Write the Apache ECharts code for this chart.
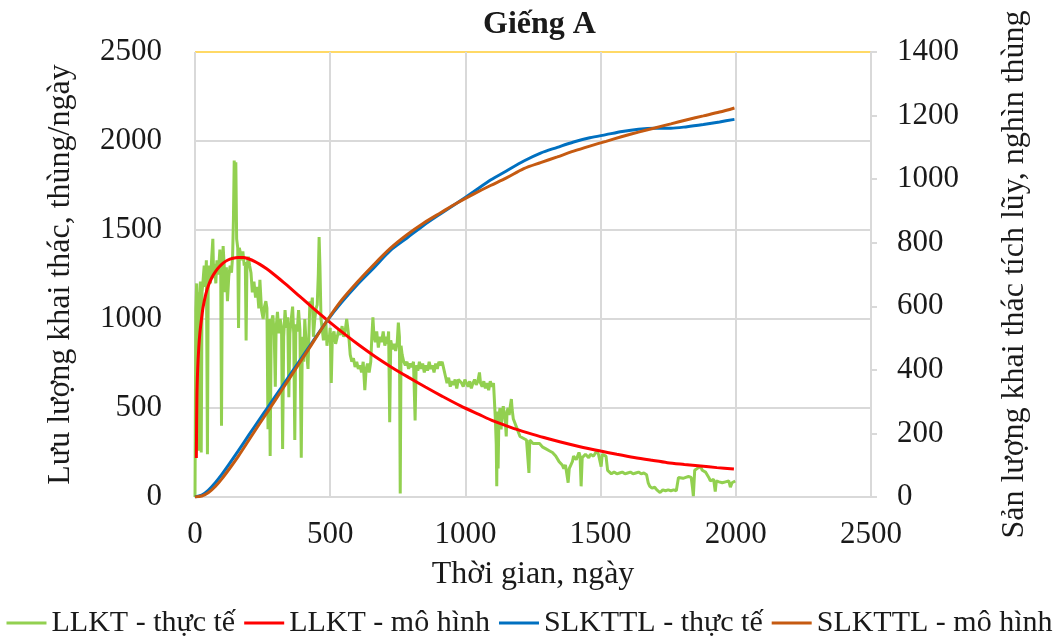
<!DOCTYPE html>
<html>
<head>
<meta charset="utf-8">
<script src="https://cdn.jsdelivr.net/npm/echarts@6/dist/echarts.min.js"></script>
<style>
  html, body { margin: 0; padding: 0; background: #fff; }
  #chart { width: 1059px; height: 644px; }
</style>
</head>
<body>
<div id="chart"></div>
<script>
// LLKT - thực tế (ngày, thùng/ngày)
const llktActual = [
  [0,0],[3,1050],[6,1200],[8,600],[10,1150],[13,260],[16,1100],[20,1210],[23,250],[26,1150],[30,1220],[34,1300],
  [38,1180],[42,1330],[46,240],[49,1250],[53,1300],[57,1200],[62,1350],[66,1450],[69,1230],[73,1310],[77,1200],
  [81,1330],[86,1250],[92,1390],[95,1280],[98,400],[101,1200],[104,1410],[108,1300],[112,1150],[116,1290],[120,1100],
  [125,1240],[130,1300],[135,1260],[139,1350],[142,1550],[145,1890],[148,1700],[151,1880],[154,1450],[158,1400],
  [161,950],[164,1400],[168,1370],[172,1330],[177,1380],[182,1300],[186,1320],[189,880],[192,1290],[197,1350],
  [202,1300],[207,1260],[212,1150],[218,1210],[224,1120],[230,1180],[236,1060],[240,1220],[246,1050],[252,1000],
  [257,1070],[262,1100],[266,1060],[270,380],[274,1000],[278,230],[282,980],[288,1020],[293,910],[297,620],[300,950],
  [305,1040],[310,920],[315,1000],[320,950],[324,270],[328,900],[333,1050],[338,950],[343,1010],[347,560],[351,920],
  [356,1000],[361,1070],[365,920],[369,320],[373,970],[378,930],[383,1050],[388,940],[393,220],[397,900],[402,760],
  [406,1000],[412,830],[418,720],[422,950],[425,1100],[429,1060],[434,1120],[438,900],[443,1000],[448,1060],[452,1080],
  [456,1250],[459,1460],[462,1300],[466,1000],[470,950],[475,880],[480,930],[484,980],[488,850],[492,900],[496,880],
  [500,950],[504,640],[508,900],[514,930],[520,860],[526,900],[532,940],[538,910],[544,960],[550,900],[556,940],
  [561,1000],[565,950],[570,880],[574,800],[580,760],[586,780],[592,730],[598,760],[604,720],[610,740],[616,700],
  [622,760],[628,600],[633,720],[638,750],[644,700],[650,760],[654,900],[658,1010],[662,900],[667,870],[672,930],
  [678,840],[684,900],[690,870],[696,930],[702,850],[708,900],[712,860],[716,930],[720,420],[724,880],[730,830],
  [736,860],[742,820],[748,870],[752,980],[756,900],[759,20],[762,850],[766,800],[772,760],[778,740],[784,760],
  [790,720],[796,750],[802,730],[808,760],[814,430],[818,740],[824,710],[830,760],[836,720],[842,750],[848,700],
  [854,740],[860,710],[866,760],[872,720],[878,740],[884,700],[890,750],[896,720],[902,760],[908,740],[914,760],
  [920,720],[926,680],[932,640],[938,670],[944,620],[950,650],[956,630],[962,660],[968,610],[974,660],[980,650],
  [986,640],[992,620],[998,660],[1004,640],[1010,620],[1016,650],[1022,610],[1028,640],[1034,660],[1040,630],
  [1046,650],[1052,700],[1056,640],[1062,620],[1068,650],[1074,610],[1080,640],[1086,600],[1092,650],[1098,620],
  [1104,640],[1108,520],[1111,430],[1114,300],[1116,60],[1118,480],[1121,160],[1124,450],[1128,500],[1132,380],
  [1136,470],[1140,510],[1144,460],[1148,420],[1151,340],[1154,480],[1158,500],[1162,460],[1166,510],[1170,550],
  [1173,490],[1177,440],[1182,420],[1187,430],[1192,380],[1197,360],[1202,340],[1208,350],[1214,330],[1220,340],
  [1226,320],[1232,330],[1235,135],[1238,320],[1244,310],[1250,300],[1256,310],[1262,300],[1268,290],[1274,300],
  [1280,290],[1286,280],[1292,290],[1298,270],[1304,260],[1310,260],[1316,270],[1322,250],[1328,240],[1334,230],
  [1340,220],[1346,200],[1352,190],[1358,180],[1364,160],[1370,180],[1376,170],[1380,80],[1384,160],[1390,170],
  [1396,200],[1400,230],[1404,240],[1410,210],[1416,220],[1420,250],[1424,230],[1428,60],[1432,220],[1438,230],
  [1444,240],[1450,250],[1456,220],[1462,240],[1468,250],[1474,230],[1480,240],[1486,260],[1492,240],[1498,250],
  [1502,170],[1506,240],[1512,235],[1520,230],[1526,150],[1532,140],[1540,130],[1550,140],[1560,130],[1570,135],
  [1580,140],[1590,130],[1600,135],[1610,140],[1620,130],[1630,135],[1640,140],[1650,130],[1660,135],[1670,125],
  [1676,80],[1682,60],[1690,50],[1700,55],[1708,40],[1714,30],[1720,25],[1730,40],[1740,35],[1750,40],[1760,35],
  [1770,40],[1780,35],[1788,110],[1795,110],[1805,105],[1815,110],[1825,115],[1835,110],[1840,50],[1843,5],
  [1848,150],[1855,160],[1862,165],[1870,170],[1876,150],[1882,160],[1888,140],[1894,130],[1900,110],[1906,90],
  [1912,95],[1918,100],[1924,30],[1928,90],[1932,100],[1938,85],[1944,95],[1950,80],[1956,90],[1962,85],[1968,75],
  [1974,90],[1980,55],[1986,80],[1992,85],[1998,90]
];

// LLKT - mô hình
const llktModel = [
  [5,219],[7,560],[10,720],[14,840],[18,920],[24,1000],[30,1067],[40,1140],[50,1190],[62,1232],[75,1265],[90,1293],
  [105,1315],[120,1330],[140,1341],[160,1346],[180,1345],[200,1337],[220,1324],[240,1307],[265,1282],[290,1253],
  [315,1222],[340,1190],[365,1157],[394,1118],[440,1057],[489,994],[556,912],[605,855],[667,788],[728,728],
  [790,672],[852,618],[913,567],[982,512],[1050,464],[1105,426],[1170,390],[1228,362],[1290,334],[1352,309],
  [1420,284],[1500,258],[1560,240],[1624,222],[1690,206],[1747,193],[1810,183],[1870,174],[1930,165],[1993,157]
];

// SLKTTL - thực tế (nghìn thùng)
const slkttlActual = [
  [0,0],[25,6],[50,22],[75,45],[100,72],[130,108],[160,145],[200,196],[240,246],[270,283],[320,345],[380,420],
  [430,482],[489,555],[540,610],[599,667],[660,720],[722,775],[784,815],[846,855],[910,892],[969,925],[1030,960],
  [1093,997],[1150,1025],[1216,1057],[1278,1082],[1340,1100],[1400,1117],[1460,1130],[1520,1140],[1580,1150],
  [1640,1157],[1700,1160],[1760,1160],[1820,1165],[1880,1172],[1940,1180],[1995,1188]
];

// SLKTTL - mô hình (nghìn thùng)
const slkttlModel = [
  [0,0],[25,3],[50,14],[75,33],[100,58],[130,92],[160,128],[200,180],[240,232],[270,270],[320,335],[380,413],
  [430,478],[489,556],[540,617],[599,675],[660,730],[722,782],[784,825],[846,862],[910,895],[969,925],[1030,953],
  [1093,980],[1150,1003],[1216,1033],[1278,1052],[1340,1070],[1400,1088],[1460,1104],[1520,1119],[1580,1134],
  [1640,1148],[1700,1161],[1760,1174],[1820,1187],[1880,1199],[1940,1211],[1995,1224]
];

const seriesNames = ['LLKT - thực tế', 'LLKT - mô hình', 'SLKTTL - thực tế', 'SLKTTL - mô hình'];
const seriesColors = ['#92D050', '#FF0000', '#0070C0', '#C55A11'];

const font = '"Liberation Serif", serif';
const textColor = '#1a1a1a';
const gridColor = '#D9D9D9';
const plainNumber = (v) => String(v);

var chart = echarts.init(document.getElementById('chart'));

var option = {
  animation: false,
  backgroundColor: '#fff',
  title: {
    text: 'Giếng A',
    left: 478,
    top: 4,
    textStyle: { fontFamily: font, fontSize: 32, fontWeight: 'bold', color: textColor }
  },
  legend: {
    bottom: 1,
    left: 'center',
    icon: 'rect',
    itemWidth: 40,
    itemHeight: 3,
    itemGap: 9,
    textStyle: { fontFamily: font, fontSize: 30, color: textColor },
    data: seriesNames
  },
  grid: {
    left: 195,
    right: 188,
    top: 52,
    bottom: 147
  },
  xAxis: {
    type: 'value',
    min: 0,
    max: 2500,
    interval: 500,
    name: 'Thời gian, ngày',
    nameLocation: 'middle',
    nameGap: 62,
    nameTextStyle: { fontFamily: font, fontSize: 32, color: textColor },
    axisLine: { show: true, lineStyle: { color: gridColor, width: 2 } },
    axisTick: { show: false },
    axisLabel: { fontFamily: font, fontSize: 31, color: textColor, margin: 22, formatter: plainNumber },
    splitLine: { show: true, lineStyle: { color: gridColor, width: 2 } }
  },
  yAxis: [
    {
      type: 'value',
      min: 0,
      max: 2500,
      interval: 500,
      name: 'Lưu lượng khai thác, thùng/ngày',
      nameLocation: 'middle',
      nameRotate: 90,
      nameGap: 118,
      nameTextStyle: { fontFamily: font, fontSize: 32, color: textColor },
      axisLine: { show: false },
      axisTick: { show: false },
      axisLabel: { fontFamily: font, fontSize: 31, color: textColor, margin: 33, formatter: plainNumber },
      splitLine: {
        show: true,
        lineStyle: { color: [gridColor, gridColor, gridColor, gridColor, gridColor, '#FFD966'], width: 2 }
      }
    },
    {
      type: 'value',
      position: 'right',
      min: 0,
      max: 1400,
      interval: 200,
      name: 'Sản lượng khai thác tích lũy, nghìn thùng',
      nameLocation: 'middle',
      nameRotate: 90,
      nameGap: 128,
      nameTextStyle: { fontFamily: font, fontSize: 32, color: textColor },
      axisLine: { show: true, lineStyle: { color: gridColor, width: 2 } },
      axisTick: { show: true, length: 6, lineStyle: { color: gridColor, width: 2 } },
      axisLabel: { fontFamily: font, fontSize: 31, color: textColor, margin: 26, formatter: plainNumber },
      splitLine: { show: false }
    }
  ],
  series: [
    {
      name: seriesNames[0],
      type: 'line',
      yAxisIndex: 0,
      data: llktActual,
      showSymbol: false,
      symbol: 'none',
      color: seriesColors[0],
      lineStyle: { width: 3, color: seriesColors[0] },
      z: 2
    },
    {
      name: seriesNames[1],
      type: 'line',
      yAxisIndex: 0,
      data: llktModel,
      smooth: 0.3,
      showSymbol: false,
      symbol: 'none',
      color: seriesColors[1],
      lineStyle: { width: 3, color: seriesColors[1] },
      z: 3
    },
    {
      name: seriesNames[2],
      type: 'line',
      yAxisIndex: 1,
      data: slkttlActual,
      smooth: 0.3,
      showSymbol: false,
      symbol: 'none',
      color: seriesColors[2],
      lineStyle: { width: 3, color: seriesColors[2] },
      z: 4
    },
    {
      name: seriesNames[3],
      type: 'line',
      yAxisIndex: 1,
      data: slkttlModel,
      smooth: 0.3,
      showSymbol: false,
      symbol: 'none',
      color: seriesColors[3],
      lineStyle: { width: 3, color: seriesColors[3] },
      z: 5
    }
  ]
};

option && chart.setOption(option);
</script>
</body>
</html>
